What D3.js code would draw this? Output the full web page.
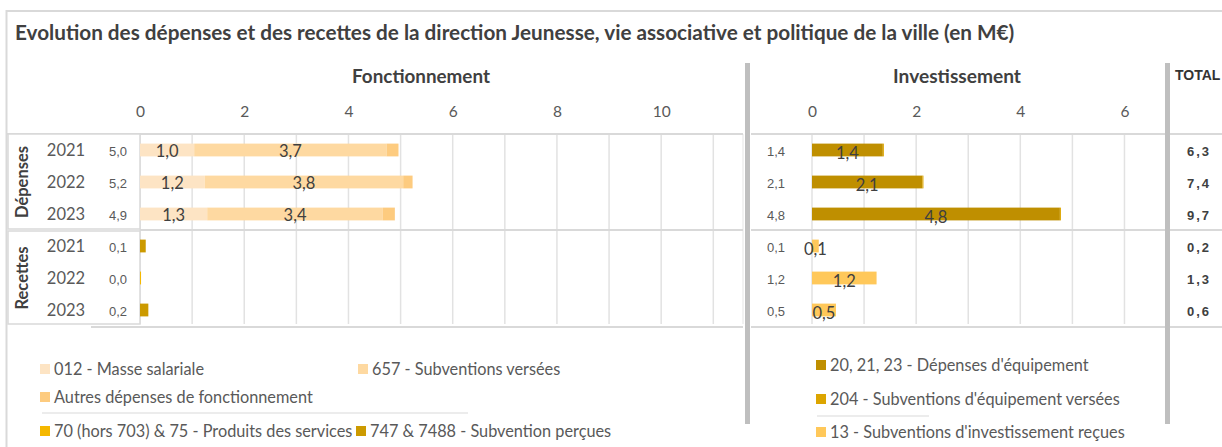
<!DOCTYPE html>
<html>
<head>
<meta charset="utf-8">
<script src="https://cdn.jsdelivr.net/npm/d3@7"></script>
<style>
body { margin: 0; background: #fff; }
svg { display: block; }
</style>
</head>
<body>
<div id="viz"></div>
<script>
var width = 1222,
  height = 447;

// data (M€)
var years = ['2021', '2022', '2023'];
var groups = ['Dépenses', 'Recettes'];
var fonctTicks = [0, 2, 4, 6, 8, 10];
var investTicks = [0, 2, 4, 6];

// fonctionnement - dépenses
var masseSalariale = [1.04, 1.24, 1.29];
var subventionsVersees = [3.69, 3.81, 3.37];
var autresDepenses = [0.23, 0.18, 0.23];
// fonctionnement - recettes
var produitsServices = [0.0, 0.02, 0.0];
var subventionsPercues = [0.11, 0.0, 0.16];
// investissement - dépenses
var depensesEquipement = [1.36, 2.12, 4.76];
var subvEquipVersees = [0.02, 0.02, 0.02];
// investissement - recettes
var subvInvestRecues = [0.13, 1.24, 0.46];

var series = {
  masse: { label: '012 - Masse salariale', color: '#fde4c4', showValue: true },
  s657: { label: '657 - Subventions versées', color: '#fed9a1', showValue: true },
  autres: { label: 'Autres dépenses de fonctionnement', color: '#fdcb7f', showValue: false },
  s70: { label: '70 (hors 703) & 75 - Produits des services', color: '#f5b800', showValue: false },
  s747: { label: '747 & 7488 - Subvention perçues', color: '#cc9a00', showValue: false },
  equip: { label: '20, 21, 23 - Dépenses d\'équipement', color: '#bf8f00', showValue: true },
  s204: { label: '204 - Subventions d\'équipement versées', color: '#dca500', showValue: false },
  s13: { label: '13 - Subventions d\'investissement reçues', color: '#ffc85a', showValue: true }
};

// one row per (group, year)
var rows = [];
years.forEach(function (y, i) {
  rows.push({
    key: 'D' + y, group: 0, year: y,
    fonct: [['masse', masseSalariale[i]], ['s657', subventionsVersees[i]], ['autres', autresDepenses[i]]],
    invest: [['equip', depensesEquipement[i]], ['s204', subvEquipVersees[i]]]
  });
});
years.forEach(function (y, i) {
  rows.push({
    key: 'R' + y, group: 1, year: y,
    fonct: [['s70', produitsServices[i]], ['s747', subventionsPercues[i]]],
    invest: [['s13', subvInvestRecues[i]]]
  });
});
rows.forEach(function (r) {
  r.fonctTotal = d3.sum(r.fonct, function (d) { return d[1]; });
  r.investTotal = d3.sum(r.invest, function (d) { return d[1]; });
  r.total = r.fonctTotal + r.investTotal;
});

var fmt = function (v) { return d3.format('.1f')(v).replace('.', ','); };

var textColor = '#404040',
  tickColor = '#595959',
  gridColor = '#e2e2e2',
  lineColor = '#d9d9d9',
  sepColor = '#bfbfbf',
  calibri = 'Lato, "Open Sans", sans-serif',
  arial = '"Liberation Sans", Arial, sans-serif';

var plotTop = 134,
  plotBottom = 326;

// scale a text's font size so that it spans the given width
function fitWidth(sel, w) {
  var node = sel.node(),
    fs = +sel.attr('font-size');
  sel.attr('font-size', fs * w / node.getComputedTextLength());
  return sel;
}

var xF = d3.scaleLinear().domain([0, 11.57]).range([140, 743]);
var xI = d3.scaleLinear().domain([0, 6.74]).range([812, 1163]);
var yRow = d3.scaleBand().domain(rows.map(function (r) { return r.key; }))
  .range([plotTop, plotBottom]).paddingInner(0.6).paddingOuter(0.3);

var svg = d3.select('#viz').append('svg')
  .attr('width', width)
  .attr('height', height)
  .style('font-family', calibri);

// outer frame
svg.append('rect')
  .attr('x', 6.5).attr('y', 11)
  .attr('width', 1300).attr('height', 500)
  .attr('fill', '#fff')
  .attr('stroke', lineColor).attr('stroke-width', 2);

fitWidth(svg.append('text')
  .attr('x', 15).attr('y', 40)
  .attr('fill', textColor)
  .attr('font-size', 17).attr('font-weight', 'bold')
  .text('Evolution des dépenses et des recettes de la direction Jeunesse, vie associative et politique de la ville (en M€)'), 1000);

// section titles
fitWidth(svg.append('text').attr('x', 421).attr('y', 83).attr('text-anchor', 'middle')
  .attr('fill', textColor).attr('font-size', 16).attr('font-weight', 'bold').text('Fonctionnement'), 138);
fitWidth(svg.append('text').attr('x', 957).attr('y', 83).attr('text-anchor', 'middle')
  .attr('fill', textColor).attr('font-size', 16).attr('font-weight', 'bold').text('Investissement'), 128);
svg.append('text').attr('x', 1175).attr('y', 80)
  .attr('fill', '#333').attr('font-family', arial).attr('font-size', 14).attr('font-weight', 'bold').text('TOTAL');

// vertical gridlines
var grid = svg.append('g');
grid.selectAll('line.gf').data(d3.range(0, 12)).enter().append('line')
  .attr('x1', function (d) { return xF(d); }).attr('x2', function (d) { return xF(d); })
  .attr('y1', plotTop).attr('y2', plotBottom - 2)
  .attr('stroke', gridColor).attr('stroke-width', 1.5);
grid.selectAll('line.gi').data(d3.range(0, 7)).enter().append('line')
  .attr('x1', function (d) { return xI(d); }).attr('x2', function (d) { return xI(d); })
  .attr('y1', plotTop).attr('y2', plotBottom - 2)
  .attr('stroke', gridColor).attr('stroke-width', 1.5);
grid.append('line').attr('x1', 743).attr('x2', 743).attr('y1', plotTop).attr('y2', plotBottom - 2)
  .attr('stroke', '#eeeeee').attr('stroke-width', 1.5);

// horizontal lines
var hl = [[6, 743, plotTop], [751, 1222, plotTop], [140, 743, 230], [751, 1222, 230], [91, 743, 327], [751, 1222, 327]];
svg.selectAll('line.h').data(hl).enter().append('line')
  .attr('x1', function (d) { return d[0]; }).attr('x2', function (d) { return d[1]; })
  .attr('y1', function (d) { return d[2]; }).attr('y2', function (d) { return d[2]; })
  .attr('stroke', lineColor).attr('stroke-width', 2);

// label boxes on the left
svg.selectAll('rect.box').data([[134, 229], [231, 324]]).enter().append('rect')
  .attr('x', 8).attr('y', function (d) { return d[0]; })
  .attr('width', 132).attr('height', function (d) { return d[1] - d[0]; })
  .attr('fill', '#fff').attr('stroke', lineColor).attr('stroke-width', 1.5);

// axes
var axF = svg.append('g').attr('transform', 'translate(0,' + 117 + ')')
  .call(d3.axisTop(xF).tickValues(fonctTicks).tickSize(0).tickPadding(0).tickFormat(d3.format('d')));
var axI = svg.append('g').attr('transform', 'translate(0,' + 117 + ')')
  .call(d3.axisTop(xI).tickValues(investTicks).tickSize(0).tickPadding(0).tickFormat(d3.format('d')));
[axF, axI].forEach(function (a) {
  a.select('.domain').remove();
  a.selectAll('text').attr('fill', tickColor).attr('font-size', 15.5).attr('font-family', calibri);
});

// group labels
var groupRows = [[0, 2], [3, 5]];
svg.selectAll('text.grp').data(groups).enter().append('text')
  .attr('transform', function (d, i) {
    var cy = (yRow(rows[groupRows[i][0]].key) + yRow(rows[groupRows[i][1]].key) + yRow.bandwidth()) / 2;
    return 'translate(28,' + cy + ') rotate(-90)';
  })
  .attr('text-anchor', 'middle')
  .attr('fill', textColor).attr('font-size', 16.5).attr('font-weight', 'bold')
  .text(function (d) { return d; });

var rowG = svg.selectAll('g.row').data(rows).enter().append('g')
  .attr('transform', function (d) { return 'translate(0,' + yRow(d.key) + ')'; });
var bh = yRow.bandwidth(),
  mid = bh / 2;

rowG.append('text').attr('x', 66).attr('y', mid).attr('dy', '0.35em')
  .attr('text-anchor', 'middle').attr('fill', tickColor).attr('font-size', 16.5)
  .text(function (d) { return d.year; });
rowG.append('text').attr('x', 118).attr('y', mid + 1).attr('dy', '0.35em')
  .attr('text-anchor', 'middle').attr('fill', tickColor).attr('font-size', 13).attr('font-family', arial)
  .text(function (d) { return fmt(d.fonctTotal); });
rowG.append('text').attr('x', 776).attr('y', mid + 1).attr('dy', '0.35em')
  .attr('text-anchor', 'middle').attr('fill', tickColor).attr('font-size', 13).attr('font-family', arial)
  .text(function (d) { return fmt(d.investTotal); });
rowG.append('text').attr('x', 1199).attr('y', mid + 1).attr('dy', '0.35em')
  .attr('text-anchor', 'middle').attr('fill', '#404040').attr('font-size', 13).attr('font-family', arial)
  .attr('font-weight', 'bold').attr('letter-spacing', 2)
  .text(function (d) { return fmt(d.total); });

// stacked segments
function stackSegs(list) {
  var acc = 0;
  return list.map(function (s) {
    var o = { key: s[0], v: s[1], x0: acc, x1: acc + s[1] };
    acc += s[1];
    return o;
  });
}

function drawBars(sel, field, x, dyLabel) {
  var seg = sel.selectAll('g.seg-' + field)
    .data(function (d) { return stackSegs(d[field]); })
    .enter().append('g');
  seg.append('rect')
    .attr('x', function (d) { return x(d.x0); })
    .attr('width', function (d) { return Math.max(0, x(d.x1) - x(d.x0)); })
    .attr('y', 0).attr('height', bh)
    .attr('fill', function (d) { return series[d.key].color; });
  seg.filter(function (d) { return series[d.key].showValue; })
    .append('text')
    .attr('x', function (d) { return (x(d.x0) + x(d.x1)) / 2; })
    .attr('y', mid + dyLabel).attr('dy', '0.35em')
    .attr('text-anchor', 'middle').attr('fill', textColor).attr('font-size', 16.5)
    .text(function (d) { return fmt(d.v); });
}
drawBars(rowG, 'fonct', xF, 1);
drawBars(rowG, 'invest', xI, 3);

// separators
svg.selectAll('rect.sep').data([745, 1165]).enter().append('rect')
  .attr('x', function (d) { return d; }).attr('y', 63)
  .attr('width', 5).attr('height', 361)
  .attr('fill', sepColor);

// legends
var legL = [
  ['masse', 40, 369], ['s657', 358, 369], ['autres', 40, 397],
  ['s70', 40, 431], ['s747', 356, 431]
];
var legR = [['equip', 816, 365], ['s204', 816, 399], ['s13', 816, 432]];
var leg = svg.selectAll('g.leg').data(legL.concat(legR)).enter().append('g')
  .attr('transform', function (d) { return 'translate(' + d[1] + ',' + d[2] + ')'; });
leg.append('rect').attr('x', 0).attr('y', -5).attr('width', 10).attr('height', 10)
  .attr('fill', function (d) { return series[d[0]].color; });
leg.append('text').attr('x', 14).attr('y', 0).attr('dy', '0.35em')
  .attr('fill', tickColor).attr('font-size', 16.3)
  .text(function (d) { return series[d[0]].label; });

svg.selectAll('line.legsep').data([[42, 468, 413], [817, 929, 416]]).enter().append('line')
  .attr('x1', function (d) { return d[0]; }).attr('x2', function (d) { return d[1]; })
  .attr('y1', function (d) { return d[2]; }).attr('y2', function (d) { return d[2]; })
  .attr('stroke', lineColor).attr('stroke-width', 1);
</script>
</body>
</html>
